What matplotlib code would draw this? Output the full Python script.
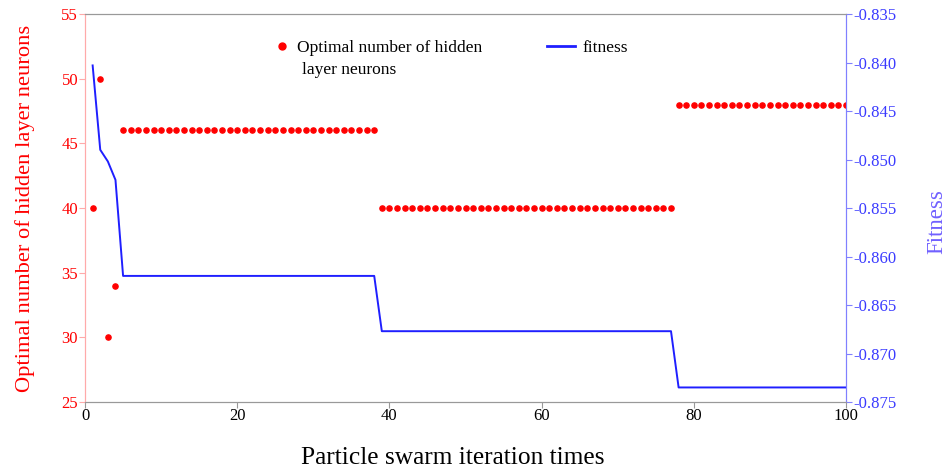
import matplotlib

matplotlib.use("Agg")
import matplotlib.pyplot as plt
from matplotlib.lines import Line2D

plt.rcParams["font.family"] = ["Liberation Serif", "DejaVu Serif"]

# best hidden-layer size found at each PSO iteration
iters = list(range(1, 101))
neurons = [40, 50, 30, 34] + [46] * 34 + [40] * 39 + [48] * 23
# best fitness at each PSO iteration
fitness = (
    [-0.8403, -0.8490, -0.8502, -0.8521]
    + [-0.8620] * 34
    + [-0.8677] * 39
    + [-0.8735] * 23
)

RED = "#ff0000"
BLUE = "#1f1fff"

fig = plt.figure(figsize=(9.49, 4.72), dpi=100)
ax = fig.add_axes([0.0896, 0.1483, 0.8019, 0.822])
ax2 = ax.twinx()

ax.scatter(iters, neurons, s=14, color=RED, zorder=3)
ax2.plot(iters, fitness, color=BLUE, lw=1.4)

ax.set_xlim(0, 100)
ax.set_ylim(25, 55)
ax2.set_ylim(-0.875, -0.835)
ax.set_xticks([0, 20, 40, 60, 80, 100])
ax.set_yticks([25, 30, 35, 40, 45, 50, 55])
ax2.set_yticks([-0.875, -0.870, -0.865, -0.860, -0.855, -0.850, -0.845, -0.840, -0.835])
ax2.yaxis.set_major_formatter(matplotlib.ticker.FormatStrFormatter("%.3f"))

for a in (ax, ax2):
    a.spines["top"].set_color("#999999")
    a.spines["bottom"].set_color("#999999")
    a.spines["left"].set_color("#ffaaaa")
    a.spines["right"].set_color("#8080ff")

ax.tick_params(axis="x", labelsize=12, length=4, color="#999999", pad=0.5)
ax.tick_params(axis="y", labelsize=12, length=4, color="#ffaaaa", labelcolor=RED, pad=1)
ax2.tick_params(axis="y", labelsize=12, length=4, color="#8080ff", labelcolor="#3a3aff", pad=1)

ax.set_xlabel("Particle swarm iteration times", fontsize=18.3)
ax.xaxis.set_label_coords(0.4836, -0.115)
ax.set_ylabel("Optimal number of hidden layer neurons", fontsize=16.2, color=RED, labelpad=19)
ax2.set_ylabel("Fitness", fontsize=16.5, color="#7060ff")
ax2.yaxis.set_label_coords(1.105, 0.465)

# two separate legend entries so each can sit where it should
leg_pts = ax2.legend([Line2D([], [], ls="none", marker="o", ms=5, color=RED)],
                     ["Optimal number of hidden"], loc="upper left",
                     bbox_to_anchor=(0.231, 0.952), frameon=False, fontsize=12.5,
                     handletextpad=0.1, handlelength=1.6, borderaxespad=0)
ax2.add_artist(leg_pts)
ax2.legend([Line2D([], [], color=BLUE, lw=2)], ["fitness"], loc="upper left",
           bbox_to_anchor=(0.598, 0.952), frameon=False, fontsize=12.5,
           handletextpad=0.45, handlelength=1.6, borderaxespad=0)
ax.text(0.285, 0.856, "layer neurons", transform=ax.transAxes, fontsize=12.5,
        va="center", ha="left")

fig.savefig("out.png", dpi=100)
